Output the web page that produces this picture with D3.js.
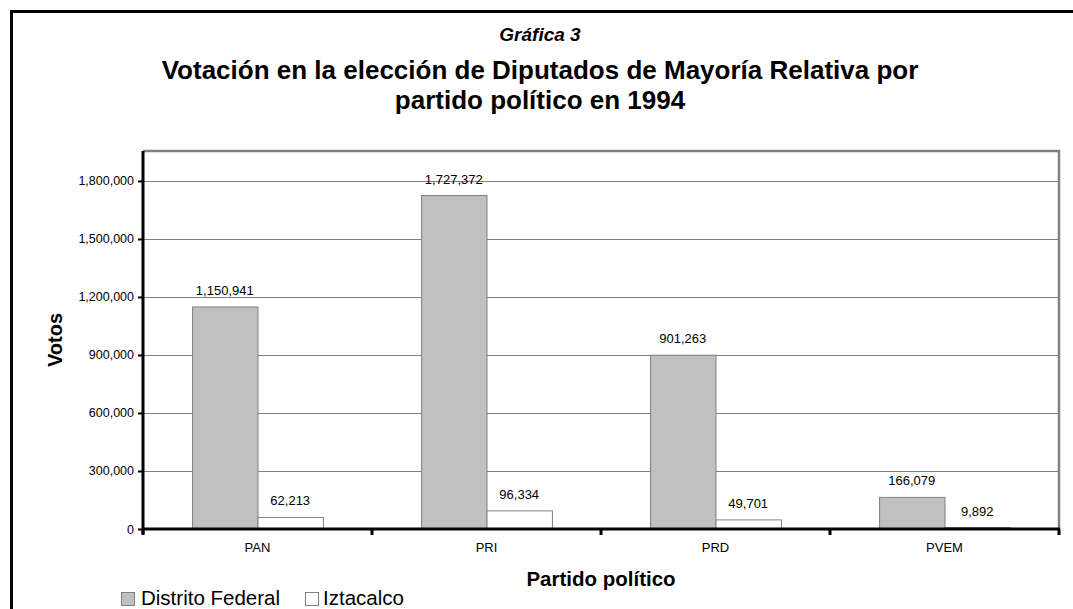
<!DOCTYPE html>
<html>
<head>
<meta charset="utf-8">
<script src="https://cdn.jsdelivr.net/npm/d3@7"></script>
<style>
  html, body { margin: 0; padding: 0; background: #fff; }
  svg { display: block; font-family: "Liberation Sans", Arial, sans-serif; }
</style>
</head>
<body>
<svg id="chart" width="1073" height="609"></svg>
<script>
const categories = ["PAN", "PRI", "PRD", "PVEM"];
const seriesNames = ["Distrito Federal", "Iztacalco"];
const distritoFederal = [1150941, 1727372, 901263, 166079];
const iztacalco = [62213, 96334, 49701, 9892];
const yTicks = [0, 300000, 600000, 900000, 1200000, 1500000, 1800000];
const yMax = 1955000;
const chartTitle = "Gráfica 3";
const titleLines = ["Votación en la elección de Diputados de Mayoría Relativa por", "partido político en 1994"];
const yTitle = "Votos";
const xTitle = "Partido político";

const seriesValues = [distritoFederal, iztacalco];
const seriesFill = ["#c0c0c0", "#ffffff"];

const svg = d3.select("#chart");
const W = 1073, H = 609;
const plot = { left: 143, right: 1059, top: 151, bottom: 529 };

// outer frame
svg.append("rect")
  .attr("x", 11.5).attr("y", 11.5)
  .attr("width", W + 20).attr("height", H + 20)
  .attr("fill", "none").attr("stroke", "#000").attr("stroke-width", 3);

// titles
svg.append("text").attr("x", 540).attr("y", 41)
  .attr("text-anchor", "middle").attr("font-size", 19)
  .attr("font-weight", "bold").attr("font-style", "italic")
  .text(chartTitle);
svg.selectAll("text.title").data(titleLines).enter().append("text")
  .attr("class", "title")
  .attr("x", 540).attr("y", (d, i) => 79 + i * 30)
  .attr("text-anchor", "middle").attr("font-size", 26).attr("font-weight", "bold")
  .text(d => d);

const x0 = d3.scaleBand().domain(categories).range([plot.left, plot.right]).paddingInner(0).paddingOuter(0);
const x1 = d3.scaleBand().domain(seriesNames).range([0, x0.bandwidth()]).paddingInner(0).paddingOuter(0.75);
const y = d3.scaleLinear().domain([0, yMax]).range([plot.bottom, plot.top]);

// gridlines
svg.append("g").selectAll("line").data(yTicks.filter(d => d > 0)).enter().append("line")
  .attr("x1", plot.left).attr("x2", plot.right)
  .attr("y1", d => Math.round(y(d)) + 0.5).attr("y2", d => Math.round(y(d)) + 0.5)
  .attr("stroke", "#808080").attr("stroke-width", 1);

// plot border top/right
svg.append("path")
  .attr("d", `M${plot.left},${plot.top} H${plot.right} V${plot.bottom}`)
  .attr("fill", "none").attr("stroke", "#808080").attr("stroke-width", 2.5);

// bars
const rows = categories.map((c, i) => ({ cat: c, vals: seriesNames.map((s, j) => ({ s, j, v: seriesValues[j][i] })) }));
const grp = svg.append("g").selectAll("g").data(rows).enter().append("g")
  .attr("transform", d => `translate(${x0(d.cat)},0)`);
grp.selectAll("rect").data(d => d.vals).enter().append("rect")
  .attr("x", d => x1(d.s) + 0.5)
  .attr("y", d => y(d.v) + 0.5)
  .attr("width", x1.bandwidth())
  .attr("height", d => plot.bottom - y(d.v))
  .attr("fill", d => seriesFill[d.j])
  .attr("stroke", "#808080").attr("stroke-width", 1);
grp.selectAll("text").data(d => d.vals).enter().append("text")
  .attr("x", d => x1(d.s) + x1.bandwidth() / 2)
  .attr("y", d => y(d.v) - 11.5)
  .attr("text-anchor", "middle").attr("font-size", 13).attr("fill", "#000")
  .text(d => d3.format(",")(d.v));

// y axis
const yAxis = svg.append("g").attr("transform", `translate(${plot.left},0)`)
  .call(d3.axisLeft(y).tickValues(yTicks).tickSize(5).tickPadding(4).tickFormat(d3.format(",")));
yAxis.select(".domain").remove();
yAxis.selectAll(".tick line").attr("stroke", "#000").attr("stroke-width", 2);
yAxis.selectAll(".tick text").attr("font-size", 12.5).attr("fill", "#000")
  .attr("font-family", "Liberation Sans, Arial, sans-serif");
svg.append("line").attr("x1", plot.left).attr("x2", plot.left)
  .attr("y1", plot.top).attr("y2", plot.bottom + 5)
  .attr("stroke", "#000").attr("stroke-width", 3);

// x axis
svg.append("line").attr("x1", plot.left).attr("x2", plot.right + 1)
  .attr("y1", plot.bottom).attr("y2", plot.bottom)
  .attr("stroke", "#000").attr("stroke-width", 3);
const boundaries = categories.map(c => x0(c)).concat([x0.range()[1]]);
svg.append("g").selectAll("line").data(boundaries).enter().append("line")
  .attr("x1", d => d).attr("x2", d => d)
  .attr("y1", plot.bottom).attr("y2", plot.bottom + 6)
  .attr("stroke", "#000").attr("stroke-width", 3);
svg.append("g").selectAll("text").data(categories).enter().append("text")
  .attr("x", d => x0(d) + x0.bandwidth() / 2).attr("y", 552)
  .attr("text-anchor", "middle").attr("font-size", 13).attr("fill", "#000")
  .text(d => d);

// axis titles
svg.append("text")
  .attr("transform", `translate(62,${(plot.top + plot.bottom) / 2}) rotate(-90)`)
  .attr("text-anchor", "middle").attr("font-size", 20).attr("font-weight", "bold")
  .text(yTitle);
svg.append("text").attr("x", (plot.left + plot.right) / 2).attr("y", 586)
  .attr("text-anchor", "middle").attr("font-size", 20.5).attr("font-weight", "bold")
  .text(xTitle);

// legend
const legendX = [121, 305];
const lg = svg.append("g").selectAll("g").data(seriesNames).enter().append("g")
  .attr("transform", (d, i) => `translate(${legendX[i]},592)`);
lg.append("rect").attr("x", 0.5).attr("y", 0.5).attr("width", 13).attr("height", 13)
  .attr("fill", (d, i) => seriesFill[i]).attr("stroke", "#808080").attr("stroke-width", 1);
lg.append("text").attr("x", (d, i) => i === 0 ? 20 : 18).attr("y", 13)
  .attr("font-size", 20.5).attr("fill", "#000").text(d => d);
</script>
</body>
</html>
